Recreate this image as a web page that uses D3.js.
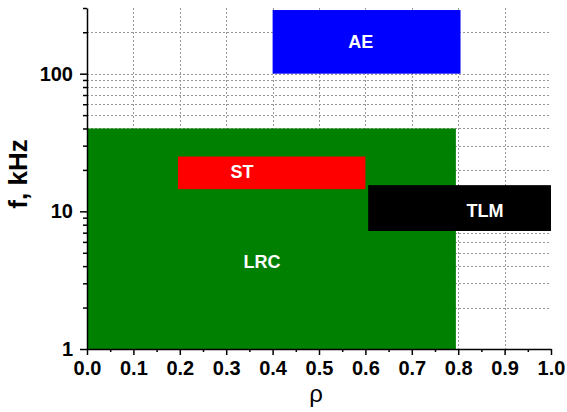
<!DOCTYPE html>
<html>
<head>
<meta charset="utf-8">
<script src="https://cdn.jsdelivr.net/npm/d3@7"></script>
<style>
  html, body { margin: 0; padding: 0; background: #fff; }
  svg { display: block; font-family: Arial, "Liberation Sans", sans-serif; }
</style>
</head>
<body>
<svg id="chart" width="567" height="412"></svg>
<script>
// Regions in the (rho, frequency) plane
const regionNames = ["LRC", "ST", "TLM", "AE"];
const rhoStart   = [0.0, 0.196, 0.606, 0.40];
const rhoEnd     = [0.795, 0.60, 1.0, 0.805];
const fLow       = [1, 14.5, 7.2, 100];
const fHigh      = [40, 25, 15.5, 290];
const regionFill = ["#008000", "#ff0000", "#000000", "#0000ff"];
// label anchor inside each region (rho, f)
const labelRho   = [0.377, 0.334, 0.858, 0.59];
const labelF     = [4.35, 19.5, 10.2, 172];

const xTicks = [0.0, 0.1, 0.2, 0.3, 0.4, 0.5, 0.6, 0.7, 0.8, 0.9, 1.0];
const xMinorTicks = [0.05, 0.15, 0.25, 0.35, 0.45, 0.55, 0.65, 0.75, 0.85, 0.95];
const yTicks = [1, 10, 100];
const yMinorTicks = [2, 3, 4, 5, 6, 7, 8, 9, 20, 30, 40, 50, 60, 70, 80, 90, 200, 300];

const svg = d3.select("#chart");
const plotLeft = 87, plotRight = 551, plotTop = 8, plotBottom = 349;

const x = d3.scaleLinear().domain([0, 1]).range([plotLeft, plotRight]);
const y = d3.scaleLog().domain([1, 300]).range([plotBottom, plotTop]);

// dotted grid
const grid = svg.append("g").attr("stroke", "#999").attr("stroke-width", 1)
  .attr("stroke-dasharray", "2,2");
grid.selectAll("line.v").data(xTicks.slice(1, -1)).join("line")
  .attr("x1", d => Math.round(x(d)) + 0.5).attr("x2", d => Math.round(x(d)) + 0.5)
  .attr("y1", plotTop).attr("y2", plotBottom);
grid.selectAll("line.h").data(yTicks.concat(yMinorTicks).filter(d => d > 1 && d < 300)).join("line")
  .attr("x1", plotLeft).attr("x2", plotRight)
  .attr("y1", d => Math.round(y(d)) + 0.5).attr("y2", d => Math.round(y(d)) + 0.5);

// regions
svg.append("g").selectAll("rect").data(regionNames).join("rect")
  .attr("x", (d, i) => x(rhoStart[i]))
  .attr("width", (d, i) => x(rhoEnd[i]) - x(rhoStart[i]))
  .attr("y", (d, i) => y(fHigh[i]))
  .attr("height", (d, i) => y(fLow[i]) - y(fHigh[i]))
  .attr("fill", (d, i) => regionFill[i]);

svg.append("g").selectAll("text").data(regionNames).join("text")
  .attr("x", (d, i) => x(labelRho[i]))
  .attr("y", (d, i) => y(labelF[i]))
  .attr("dy", "0.36em")
  .attr("text-anchor", "middle")
  .attr("fill", "#fff").attr("font-weight", "bold").attr("font-size", 18)
  .text(d => d);

// x axis
const xAxis = svg.append("g").attr("transform", `translate(0,${plotBottom})`)
  .call(d3.axisBottom(x).tickValues(xTicks).tickFormat(d3.format(".1f")).tickSize(6).tickSizeOuter(0));
svg.append("g").attr("transform", `translate(0,${plotBottom})`)
  .call(d3.axisBottom(x).tickValues(xMinorTicks).tickFormat("").tickSize(3).tickSizeOuter(0))
  .select(".domain").remove();
xAxis.selectAll("text").attr("font-size", 20).attr("font-weight", "bold")
  .attr("font-family", "Arial, 'Liberation Sans', sans-serif").attr("fill", "#000")
  .attr("y", 26).attr("dy", null);

// y axis
const yAxis = svg.append("g").attr("transform", `translate(${plotLeft},0)`)
  .call(d3.axisLeft(y).tickValues(yTicks).tickFormat(d3.format("d")).tickSize(7).tickSizeOuter(0));
svg.append("g").attr("transform", `translate(${plotLeft},0)`)
  .call(d3.axisLeft(y).tickValues(yMinorTicks).tickFormat("").tickSize(4).tickSizeOuter(0))
  .select(".domain").remove();
yAxis.selectAll("text").attr("font-size", 20).attr("font-weight", "bold")
  .attr("font-family", "Arial, 'Liberation Sans', sans-serif").attr("fill", "#000").attr("x", -14);

svg.selectAll(".domain, .tick line").attr("stroke", "#000").attr("stroke-width", 1.5);

// axis titles
svg.append("text").attr("x", 316).attr("y", 402).attr("text-anchor", "middle")
  .attr("font-size", 24).attr("fill", "#000").text("ρ");
svg.append("text").attr("transform", "translate(27,174) rotate(-90)")
  .attr("text-anchor", "middle").attr("font-size", 26).attr("font-weight", "bold")
  .attr("fill", "#000").text("f, kHz");
</script>
</body>
</html>
